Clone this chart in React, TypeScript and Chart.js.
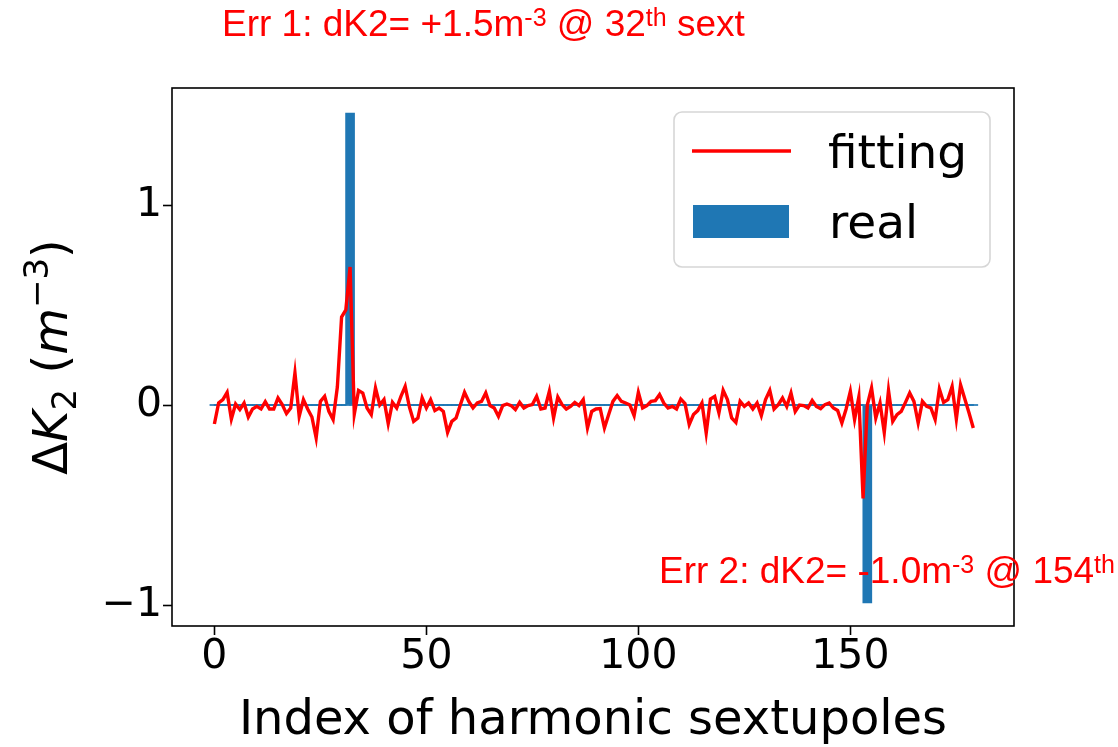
import React, { useEffect, useRef } from 'react';
import { Chart, registerables } from 'chart.js';

Chart.register(...registerables);

// ---------- data ----------
const sextIndex: number[] = Array.from({ length: 180 }, (_, i) => i);

const fittingValues: number[] = [
  -0.095, 0.01, 0.027, 0.063, -0.07, 0.005, -0.023, 0.01, -0.06, -0.02,
  -0.007, -0.02, 0.017, -0.02, -0.02, 0.035, 0.002, -0.043, -0.015, 0.16,
  -0.057, 0.027, -0.02, -0.06, -0.165, 0.018, 0.043, -0.032, -0.073, 0.09,
  0.44, 0.475, 0.69, -0.045, 0.073, 0.06, -0.015, -0.048, 0.085, 0.0,
  0.027, -0.093, 0.013, -0.015, 0.043, 0.093, -0.01, -0.082, -0.065, 0.035,
  -0.015, 0.027, -0.028, -0.015, -0.032, -0.137, -0.082, -0.065, 0.0, 0.063,
  0.018, -0.015, 0.01, 0.018, 0.06, -0.003, -0.015, -0.057, -0.003, 0.005,
  -0.003, -0.023, 0.013, -0.015, -0.003, 0.002, 0.043, -0.02, -0.015, 0.068,
  -0.065, 0.04, 0.002, -0.02, -0.007, 0.013, -0.003, 0.027, -0.115, -0.032,
  -0.02, -0.018, -0.115, -0.048, 0.018, 0.047, 0.018, 0.01, 0.0, -0.053,
  0.063, -0.015, -0.003, 0.018, 0.022, 0.052, 0.01, -0.015, -0.007, -0.02,
  0.03, 0.007, -0.098, -0.048, -0.028, 0.01, -0.14, 0.03, 0.043, -0.04,
  0.073, 0.027, -0.065, -0.087, 0.018, -0.007, 0.01, -0.02, 0.01, -0.053,
  0.027, 0.073, -0.02, 0.002, 0.035, -0.007, 0.06, -0.032, 0.0, -0.003,
  -0.015, 0.023, -0.007, -0.018, 0.002, 0.01, -0.015, -0.027, -0.09, -0.02,
  0.068, -0.073, 0.04, -0.467, 0.0, 0.085, -0.065, 0.01, -0.137, 0.073,
  -0.082, -0.048, -0.032, 0.013, 0.06, 0.018, -0.09, 0.018, -0.007, -0.015,
  -0.073, 0.08, 0.013, 0.027, 0.093, -0.07, 0.1, 0.03, -0.04, -0.115,
];

const realErrIndex: number[] = [32, 154];
const realErrValue: number[] = [1.46, -0.99];

const xTickValues: number[] = [0, 50, 100, 150];
const yTickValues: number[] = [-1, 0, 1];

const seriesLabels: string[] = ['fitting', 'real'];
const xAxisLabel = 'Index of harmonic sextupoles';

// annotation texts split into [text, isSuperscript] runs
const err1Runs: [string, boolean][] = [
  ['Err 1: dK2= +1.5m', false],
  ['-3', true],
  [' @ 32', false],
  ['th', true],
  [' sext', false],
];
const err2Runs: [string, boolean][] = [
  ['Err 2: dK2= -1.0m', false],
  ['-3', true],
  [' @ 154', false],
  ['th', true],
];

// ---------- helpers ----------
const realValues = sextIndex.map((i) => {
  const k = realErrIndex.indexOf(i);
  return k >= 0 ? realErrValue[k] : 0;
});

const DV = "'DejaVu Sans', sans-serif";
const LIB = "'Liberation Sans', Arial, sans-serif";

function drawRuns(ctx: CanvasRenderingContext2D, runs: [string, boolean][], x: number, y: number, size: number) {
  let cx = x;
  ctx.textBaseline = 'alphabetic';
  ctx.textAlign = 'left';
  for (const [t, sup] of runs) {
    const s = sup ? Math.round(size * 0.68) : size;
    ctx.font = `${s}px ${LIB}`;
    ctx.fillText(t, cx, sup ? y - size * 0.27 : y);
    cx += ctx.measureText(t).width;
  }
}

const framePlugin = {
  id: 'frame',
  afterDatasetsDraw(chart: any) {
    const { ctx, chartArea: a } = chart;
    ctx.save();
    ctx.strokeStyle = '#000';
    ctx.lineWidth = 1.6;
    ctx.strokeRect(a.left, a.top, a.right - a.left, a.bottom - a.top);
    ctx.restore();
  },
};

const yTitlePlugin = {
  id: 'yTitle',
  afterDraw(chart: any) {
    const { ctx, chartArea: a } = chart;
    const size = 48;
    const small = 34;
    const parts: { t: string; f: string; dy: number }[] = [
      { t: '\u0394', f: `${size}px ${DV}`, dy: 0 },
      { t: 'K', f: `italic ${size}px ${DV}`, dy: 0 },
      { t: '2', f: `${small}px ${DV}`, dy: 9 },
      { t: ' (', f: `${size}px ${DV}`, dy: 0 },
      { t: 'm', f: `italic ${size}px ${DV}`, dy: 0 },
      { t: '\u22123', f: `${small}px ${DV}`, dy: -19 },
      { t: ')', f: `${size}px ${DV}`, dy: 0 },
    ];
    ctx.save();
    ctx.fillStyle = '#000';
    ctx.textBaseline = 'alphabetic';
    ctx.textAlign = 'left';
    let total = 0;
    const widths = parts.map((p) => {
      ctx.font = p.f;
      const w = ctx.measureText(p.t).width;
      total += w;
      return w;
    });
    ctx.translate(67, (a.top + a.bottom) / 2);
    ctx.rotate(-Math.PI / 2);
    let cx = -total / 2;
    parts.forEach((p, i) => {
      ctx.font = p.f;
      ctx.fillText(p.t, cx, p.dy);
      cx += widths[i];
    });
    ctx.restore();
  },
};

const legendPlugin = {
  id: 'boxLegend',
  afterDraw(chart: any) {
    const { ctx } = chart;
    const ds = chart.data.datasets;
    const x0 = 674, y0 = 112, w = 316, h = 155, r = 8;
    ctx.save();
    ctx.beginPath();
    ctx.moveTo(x0 + r, y0);
    ctx.lineTo(x0 + w - r, y0);
    ctx.arcTo(x0 + w, y0, x0 + w, y0 + r, r);
    ctx.lineTo(x0 + w, y0 + h - r);
    ctx.arcTo(x0 + w, y0 + h, x0 + w - r, y0 + h, r);
    ctx.lineTo(x0 + r, y0 + h);
    ctx.arcTo(x0, y0 + h, x0, y0 + h - r, r);
    ctx.lineTo(x0, y0 + r);
    ctx.arcTo(x0, y0, x0 + r, y0, r);
    ctx.closePath();
    ctx.fillStyle = 'rgba(255,255,255,0.8)';
    ctx.fill();
    ctx.strokeStyle = '#d6d6d6';
    ctx.lineWidth = 1.6;
    ctx.stroke();

    // line entry
    ctx.strokeStyle = ds[0].borderColor;
    ctx.lineWidth = 3.3;
    ctx.beginPath();
    ctx.moveTo(692, 151);
    ctx.lineTo(791, 151);
    ctx.stroke();
    // bar entry
    ctx.fillStyle = ds[1].backgroundColor;
    ctx.fillRect(693, 205, 96, 33);

    ctx.fillStyle = '#000';
    ctx.font = `47px ${DV}`;
    ctx.textAlign = 'left';
    ctx.textBaseline = 'alphabetic';
    ctx.fillText(ds[0].label, 828, 168);
    ctx.fillText(ds[1].label, 829, 238);
    ctx.restore();
  },
};

const annotationPlugin = {
  id: 'errNotes',
  afterDraw(chart: any) {
    const { ctx } = chart;
    ctx.save();
    ctx.fillStyle = '#ff0000';
    drawRuns(ctx, err1Runs, 222, 36, 37);
    drawRuns(ctx, err2Runs, 659, 583, 37);
    ctx.restore();
  },
};

export default function App() {
  const ref = useRef<HTMLCanvasElement | null>(null);

  useEffect(() => {
    document.body.style.margin = '0';
    document.body.style.overflow = 'hidden';
    const canvas = ref.current;
    if (!canvas) return;

    const tickFont = { family: DV, size: 41, lineHeight: 1 };
    const gridCfg = {
      display: true,
      drawOnChartArea: false,
      drawTicks: true,
      tickLength: 9,
      tickWidth: 1.6,
      tickColor: '#000',
      offset: false,
    };

    const chart = new Chart(canvas, {
      type: 'line',
      data: {
        datasets: [
          {
            type: 'line',
            label: seriesLabels[0],
            data: sextIndex.map((x, i) => ({ x, y: fittingValues[i] })),
            borderColor: '#ff0000',
            borderWidth: 3.4,
            pointRadius: 0,
            tension: 0,
            fill: false,
            order: 0,
          } as any,
          {
            type: 'bar',
            label: seriesLabels[1],
            data: sextIndex.map((x, i) => ({ x, y: realValues[i] })),
            backgroundColor: '#1f77b4',
            borderWidth: 0,
            barThickness: 9,
            minBarLength: 1,
            order: 1,
          } as any,
        ],
      },
      options: {
        animation: false,
        responsive: false,
        maintainAspectRatio: false,
        layout: { padding: { top: 88, right: 104, left: 0, bottom: 0 } },
        scales: {
          x: {
            type: 'linear',
            min: -10,
            max: 188.6,
            offset: false,
            afterBuildTicks: (s: any) => {
              s.ticks = xTickValues.map((v) => ({ value: v }));
            },
            afterFit: (s: any) => {
              s.height = 121;
            },
            grid: gridCfg as any,
            border: { display: false },
            ticks: {
              font: tickFont,
              color: '#000',
              padding: 2,
              maxRotation: 0,
              autoSkip: false,
              callback: (v: any) => String(v),
            },
            title: {
              display: true,
              text: xAxisLabel,
              color: '#000',
              font: { family: DV, size: 48, lineHeight: 1.2 },
              padding: { top: 0, bottom: -3 },
            },
          },
          y: {
            type: 'linear',
            min: -1.105,
            max: 1.585,
            afterBuildTicks: (s: any) => {
              s.ticks = yTickValues.map((v) => ({ value: v }));
            },
            afterFit: (s: any) => {
              s.width = 172;
            },
            grid: gridCfg as any,
            border: { display: false },
            ticks: {
              font: tickFont,
              color: '#000',
              padding: 1,
              autoSkip: false,
              callback: (v: any) => (Number(v) < 0 ? '\u2212' + Math.abs(Number(v)) : String(v)),
            },
          },
        },
        plugins: {
          legend: { display: false },
          tooltip: { enabled: false },
        },
      },
      plugins: [framePlugin, yTitlePlugin, legendPlugin, annotationPlugin],
    } as any);

    return () => chart.destroy();
  }, []);

  return (
    <div style={{ width: 1118, height: 747, background: '#fff' }}>
      <canvas ref={ref} width={1118} height={747} style={{ display: 'block', width: 1118, height: 747 }} />
    </div>
  );
}
